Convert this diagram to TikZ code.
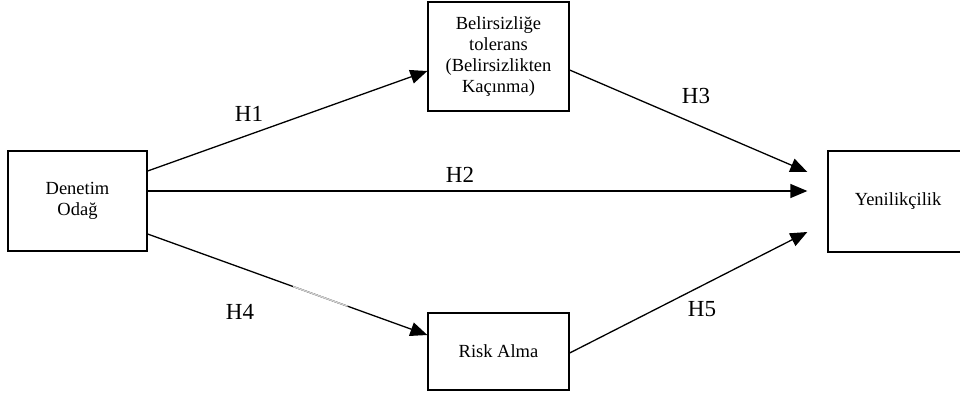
\documentclass[tikz,border=0pt]{standalone}
\usepackage{fontspec}
\setmainfont{Liberation Serif}
\usetikzlibrary{arrows.meta,calc}

\begin{document}
\begin{tikzpicture}[
    x=1pt, y=-1pt,
    box/.style={rectangle, draw=black, line width=1.3pt, align=center, inner sep=0pt, font=\fontsize{18.5}{21}\selectfont},
    arrow/.style={-{Triangle[length=17pt,width=14pt]}, line width=1.3pt, color=black},
    hyp/.style={font=\fontsize{23}{26}\selectfont}
]
    \useasboundingbox (0,0) rectangle (960,397);

    % Nodes
    \node[box, minimum width=139pt, minimum height=100pt] (odak) at (77.5,201) {Denetim\\Odağ};
    \node[box, minimum width=141pt, minimum height=109pt] (tolerans) at (498.5,56.5) {Belirsizliğe\\tolerans\\(Belirsizlikten\\Kaçınma)};
    \node[box, minimum width=141pt, minimum height=77pt] (risk) at (498.5,351.5) {Risk Alma};
    \node[box, minimum width=140pt, minimum height=101pt] (yenilik) at (898,201.5) {Yenilikçilik};

    % Arrow ends short of the right box
    \coordinate (in3) at ($(yenilik.west)+(-20,-29.5)$);
    \coordinate (in2) at ($(yenilik.west)+(-20,-10.5)$);
    \coordinate (in5) at ($(yenilik.west)+(-20,30.5)$);

    % Arrows
    \draw[arrow] ($(odak.east)+(0,-30)$) -- ($(tolerans.west)+(0,14.5)$);
    \draw[arrow] ($(odak.east)+(0,-10)$) -- (in2);
    \draw[arrow] ($(odak.east)+(0,33)$) -- ($(risk.west)+(0,-16.5)$)
        coordinate[pos=0.52] (gap1) coordinate[pos=0.715] (gap2);
    \draw[gray!35, line width=1.4pt] (gap1) -- (gap2);
    \draw[arrow] ($(tolerans.east)+(0,13.5)$) -- (in3);
    \draw[arrow] ($(risk.east)+(0,1.5)$) -- (in5);

    % Labels
    \node[hyp] (h1) at (249,114) {H1};
    \node[hyp] (h2) at (460,175) {H2};
    \node[hyp] (h3) at (696,96) {H3};
    \node[hyp] (h4) at (240,312) {H4};
    \node[hyp] (h5) at (702,309) {H5};

\end{tikzpicture}
\end{document}
